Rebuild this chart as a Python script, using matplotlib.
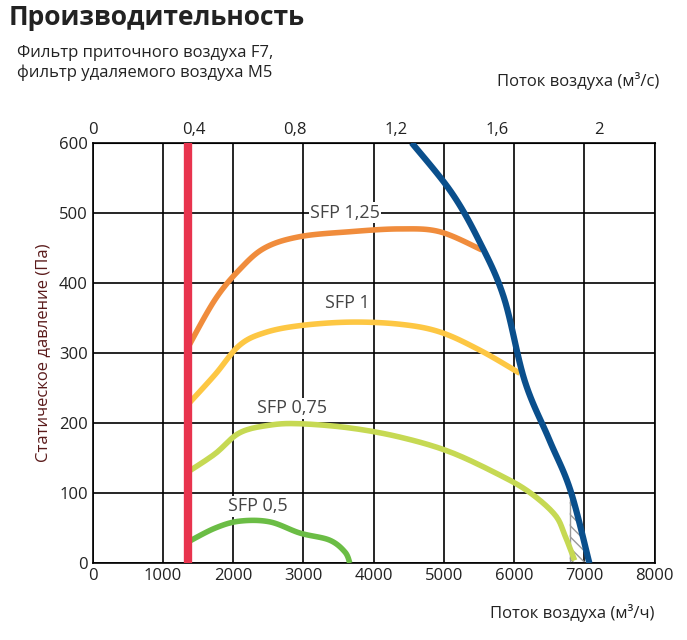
import matplotlib
matplotlib.use("Agg")
import matplotlib.pyplot as plt
import numpy as np

plt.rcParams['font.family'] = ['Open Sans', 'DejaVu Sans']

sfp125_x = [1350, 1740, 2090, 2450, 2950, 3660, 4370, 4940, 5540]
sfp125_y = [307, 376, 419, 450, 466, 473, 477, 473, 447]
sfp1_x = [1350, 1740, 2090, 2450, 2950, 3660, 4370, 4940, 5510, 6080]
sfp1_y = [226, 269, 311, 329, 339, 344, 341, 330, 304, 271]
sfp075_x = [1350, 1740, 2090, 2520, 2950, 3660, 4370, 5080, 5790, 6220, 6580, 6720, 6860]
sfp075_y = [130, 156, 186, 197, 199, 193, 180, 159, 126, 101, 69, 40, 4]
sfp05_x = [1350, 1740, 2090, 2520, 2950, 3370, 3590, 3660]
sfp05_y = [30, 50, 60, 59, 43, 33, 16, 0]
limit_x = [4540, 5100, 5500, 5850, 6150, 6500, 6800, 7070]
limit_y = [600, 530, 460, 380, 260, 176, 104, 0]
min_flow = 1350
labels = ["SFP 1,25", "SFP 1", "SFP 0,75", "SFP 0,5"]
label_pos = [(3590, 500), (3630, 371), (2830, 221), (2350, 81)]
top_ticks = [0, 0.4, 0.8, 1.2, 1.6, 2]
top_labels = ["0", "0,4", "0,8", "1,2", "1,6", "2"]


def smooth(x, y, n=12):
    x = np.asarray(x, float); y = np.asarray(y, float)
    P = np.column_stack([x, y])
    P = np.vstack([P[0], P, P[-1]])
    out = []
    for i in range(1, len(P) - 2):
        p0, p1, p2, p3 = P[i-1], P[i], P[i+1], P[i+2]
        for t in np.linspace(0, 1, n, endpoint=False):
            t2, t3 = t*t, t*t*t
            out.append(0.5*((2*p1) + (-p0+p2)*t + (2*p0-5*p1+4*p2-p3)*t2 + (-p0+3*p1-3*p2+p3)*t3))
    out.append(P[-2])
    out = np.array(out)
    return out[:, 0], out[:, 1]


fig = plt.figure(figsize=(6.87, 6.40), dpi=100)
ax = fig.add_axes([0.135, 0.120, 0.818, 0.657])
ax.set_xlim(0, 8000)
ax.set_ylim(0, 600)
ax.set_xticks(range(0, 8001, 1000))
ax.set_yticks(range(0, 601, 100))
ax.grid(True, color='black', lw=1.2)
ax.tick_params(length=0, labelsize=12, colors='#222')
for s in ax.spines.values():
    s.set_linewidth(1.2)

hx, hy = smooth(limit_x, limit_y)
m = hy <= 90
ax.fill_betweenx(hy[m], 6790, hx[m], facecolor='none', edgecolor='#999', hatch='\\\\\\', lw=0, zorder=2)
ax.plot([6790, 6790], [0, 90], color='#999', lw=1, zorder=2)

for xs, ys, c in [(sfp125_x, sfp125_y, '#f08c3c'), (sfp1_x, sfp1_y, '#fdc743'),
                  (sfp075_x, sfp075_y, '#c6d953'), (sfp05_x, sfp05_y, '#6bbd45')]:
    sx, sy = smooth(xs, ys)
    ax.plot(sx, sy, color=c, lw=4, solid_capstyle='butt', zorder=3)
ax.plot(hx, hy, color='#0a4f8c', lw=4.5, zorder=4, solid_capstyle='butt')
ax.plot([min_flow, min_flow], [0, 600], color='#e8344e', lw=6, zorder=5, solid_capstyle='butt')

for t, (x, y) in zip(labels, label_pos):
    ax.text(x, y, t, fontsize=13, color='#444', ha='center', va='center', zorder=6,
            bbox=dict(facecolor='white', edgecolor='none', pad=1))

top = ax.secondary_xaxis('top', functions=(lambda v: v / 3600, lambda v: v * 3600))
top.set_xticks(top_ticks)
top.set_xticklabels(top_labels)
top.tick_params(length=0, labelsize=12, colors='#222')

ax.set_ylabel("Статическое давление (Па)", fontsize=12, color='#5a1a1a', labelpad=6)
fig.text(0.953, 0.035, "Поток воздуха (м³/ч)", fontsize=12, ha='right', color='#222')
fig.text(0.96, 0.865, "Поток воздуха (м³/с)", fontsize=12, ha='right', color='#222')
fig.text(0.012, 0.972, "Производительность", fontsize=19, fontweight='bold', color='#222', va='center')
fig.text(0.025, 0.902, "Фильтр приточного воздуха F7,\nфильтр удаляемого воздуха M5",
         fontsize=12, color='#222', va='center', linespacing=1.25)

fig.savefig("out.png", dpi=100)
